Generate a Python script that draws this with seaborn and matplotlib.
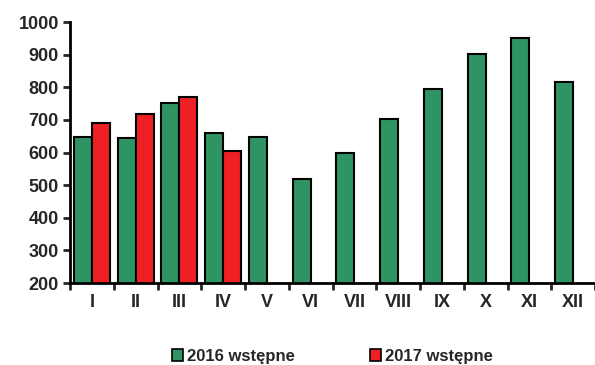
import pandas as pd
import matplotlib.pyplot as plt
import seaborn as sns

# Values
months = ["I", "II", "III", "IV", "V", "VI", "VII", "VIII", "IX", "X", "XI", "XII"]
v2016 = [646, 645, 751, 660, 648, 518, 598, 702, 794, 902, 950, 815]
v2017 = [689, 717, 770, 604, None, None, None, None, None, None, None, None]
series = ["2016 wstępne", "2017 wstępne"]
colors = ["#2E9464", "#EE2024"]
yticks = list(range(200, 1001, 100))

df = pd.DataFrame({
    "month": months * 2,
    "value": v2016 + v2017,
    "series": [series[0]] * 12 + [series[1]] * 12,
})

sns.set_style("white")
plt.rcParams["font.family"] = ["Liberation Sans", "DejaVu Sans"]
plt.rcParams["font.weight"] = "bold"
FS = 13

fig = plt.figure(figsize=(5.95, 3.65), dpi=100)
ax = fig.add_axes([70 / 595, 1 - 283 / 365, 525 / 595, (283 - 22) / 365])

sns.barplot(data=df, x="month", y="value", hue="series", palette=colors,
            saturation=1, width=0.82, edgecolor="black", linewidth=1.5,
            ax=ax, legend=False)

ax.set_ylim(200, 1000)
ax.set_xlim(-0.5, 11.39)
ax.set_yticks(yticks)
ax.set_yticklabels([str(t) for t in yticks], fontweight="bold", fontsize=FS)
ax.set_xticks(range(12))
ax.set_xticklabels(months, fontweight="bold", fontsize=FS)
ax.set_xlabel("")
ax.set_ylabel("")
for s in ["top", "right"]:
    ax.spines[s].set_visible(False)
for s in ["left", "bottom"]:
    ax.spines[s].set_linewidth(2)
    ax.spines[s].set_color("black")

ax.set_xticks([i + 0.5 for i in range(-1, 12)], minor=True)
ax.tick_params(axis="x", which="major", length=0, pad=8)
ax.tick_params(axis="x", which="minor", length=5, width=2, direction="out", bottom=True)
ax.tick_params(axis="y", length=5, width=2, direction="out", left=True, pad=3)

handles = [plt.Rectangle((0, 0), 1, 1, facecolor=c, edgecolor="black", linewidth=1.2) for c in colors]
fig.legend(handles, series, loc="center", bbox_to_anchor=(0.558, 0.024), ncol=2,
           frameon=False, handlelength=0.7, handleheight=0.7, handletextpad=0.2,
           columnspacing=4.5, prop={"weight": "bold", "size": 12})

fig.savefig("out.png", dpi=100)
